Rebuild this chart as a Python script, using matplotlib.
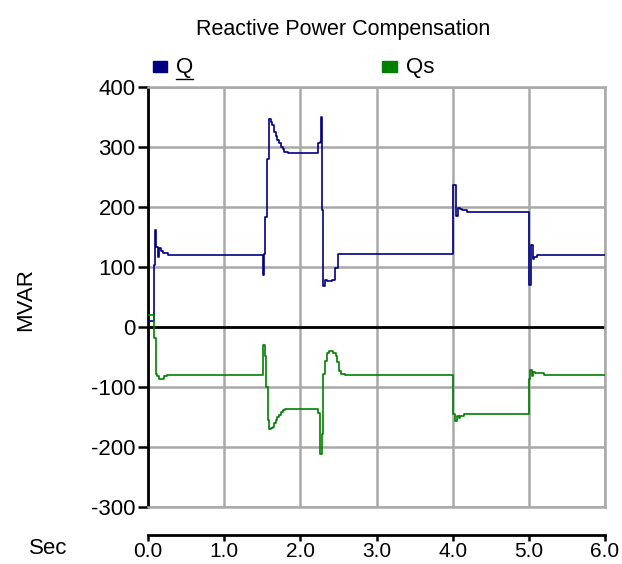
import matplotlib
matplotlib.use("Agg")
import matplotlib.pyplot as plt
from matplotlib.patches import Rectangle

plt.rcParams['font.family'] = ['Liberation Sans', 'DejaVu Sans']
plt.rcParams['axes.unicode_minus'] = False

# Q (MVAR) - step data
q_t = [0.00, 0.08, 0.095, 0.11, 0.13, 0.14, 0.17, 0.20, 0.26,
       1.505, 1.52, 1.54, 1.565, 1.585, 1.61, 1.63, 1.66, 1.68, 1.70,
       1.72, 1.75, 1.77, 1.79, 1.84, 2.23, 2.255, 2.27, 2.28, 2.30,
       2.32, 2.35, 2.42, 2.45, 2.50,
       4.01, 4.05, 4.065, 4.09, 4.12, 4.19,
       5.00, 5.025, 5.055, 5.07, 5.11, 6.00]
q_v = [10, 104, 162, 133, 117, 132, 126, 123, 120,
       87, 121, 184, 280, 347, 341, 336, 325, 319, 311,
       306, 300, 296, 292, 290, 307, 309, 350, 195, 68,
       79, 76, 79, 98, 121,
       237, 185, 199, 197, 195, 192,
       70, 136, 114, 117, 120, 120]

# Qs (MVAR)
qs_t = [0.00, 0.08, 0.10, 0.12, 0.15, 0.21, 0.25,
        1.51, 1.53, 1.555, 1.575, 1.59, 1.62, 1.64, 1.66, 1.68, 1.70,
        1.72, 1.74, 1.77, 1.80, 2.23, 2.26, 2.28, 2.30, 2.32, 2.345,
        2.37, 2.43, 2.47, 2.48, 2.51, 2.54, 2.59,
        4.01, 4.03, 4.06, 4.08, 4.10, 4.15,
        5.00, 5.02, 5.04, 5.06, 5.08, 5.20, 6.00]
qs_v = [20, -18, -78, -82, -86, -81, -80,
        -30, -48, -100, -155, -170, -169, -167, -160, -155, -150,
        -146, -141, -139, -137, -144, -211, -178, -78, -57, -43,
        -40, -43, -48, -59, -73, -78, -80,
        -145, -156, -149, -152, -149, -145,
        -87, -72, -82, -75, -77, -80, -80]

y_ticks = [-300, -200, -100, 0, 100, 200, 300, 400]
x_ticks = [0.0, 1.0, 2.0, 3.0, 4.0, 5.0, 6.0]

fs = 15.5
tfs = 16
grid_col = '#a9a9a9'

fig = plt.figure(figsize=(6.22, 5.64), dpi=100)
ax = fig.add_axes([148 / 622, 1 - 507 / 564, 457 / 622, 420 / 564])

ax.plot(q_t, q_v, drawstyle='steps-post', color='#000080', lw=1.2, zorder=3)
ax.plot(qs_t, qs_v, drawstyle='steps-post', color='#008000', lw=1.2, zorder=3)
ax.axhline(0, color='black', lw=2, zorder=2)

ax.set_xlim(0, 6)
ax.set_ylim(-300, 400)
ax.set_xticks(x_ticks)
ax.set_yticks(y_ticks)
ax.grid(True, color=grid_col, lw=1.8)
ax.tick_params(axis='x', bottom=False, labelbottom=False)
ax.tick_params(axis='y', direction='out', length=7, width=1.8, pad=2,
               labelsize=tfs)
ax.spines['left'].set_linewidth(2)
for s in ['top', 'right', 'bottom']:
    ax.spines[s].set_color(grid_col)
    ax.spines[s].set_linewidth(1.8)
fig.text(26 / 622, 1 - 300 / 564, 'MVAR', fontsize=tfs, rotation=90,
         ha='center', va='center')

# separate time axis below the plot
tax = fig.add_axes([148 / 622, 1 - 535 / 564, 457 / 622, 0.0001])
tax.set_xlim(0, 6)
tax.set_xticks(x_ticks)
tax.set_xticklabels(['%.1f' % v for v in x_ticks])
tax.set_yticks([])
for s in ['top', 'right', 'left']:
    tax.spines[s].set_visible(False)
tax.spines['bottom'].set_linewidth(2)
tax.tick_params(axis='x', direction='out', length=4, width=1.8, pad=1,
                labelsize=15)
fig.text(48 / 622, 1 - 548 / 564, 'Sec', fontsize=tfs, ha='center',
         va='center')

fig.text(343 / 622, 1 - 29 / 564, 'Reactive Power Compensation',
         fontsize=fs, ha='center', va='center')

# legend
fig.patches.append(Rectangle((153 / 622, 1 - 72 / 564), 14 / 622, 11 / 564,
                             transform=fig.transFigure, color='#000080'))
fig.text(176 / 622, 1 - 67 / 564, 'Q', fontsize=tfs, ha='left', va='center')
fig.add_artist(plt.Line2D([176 / 622, 193 / 622], [1 - 79 / 564, 1 - 79 / 564],
                          transform=fig.transFigure, color='black', lw=1))
fig.patches.append(Rectangle((382 / 622, 1 - 72 / 564), 15 / 622, 11 / 564,
                             transform=fig.transFigure, color='#008000'))
fig.text(406 / 622, 1 - 67 / 564, 'Qs', fontsize=tfs, ha='left', va='center')

fig.savefig('out.png', dpi=100)
